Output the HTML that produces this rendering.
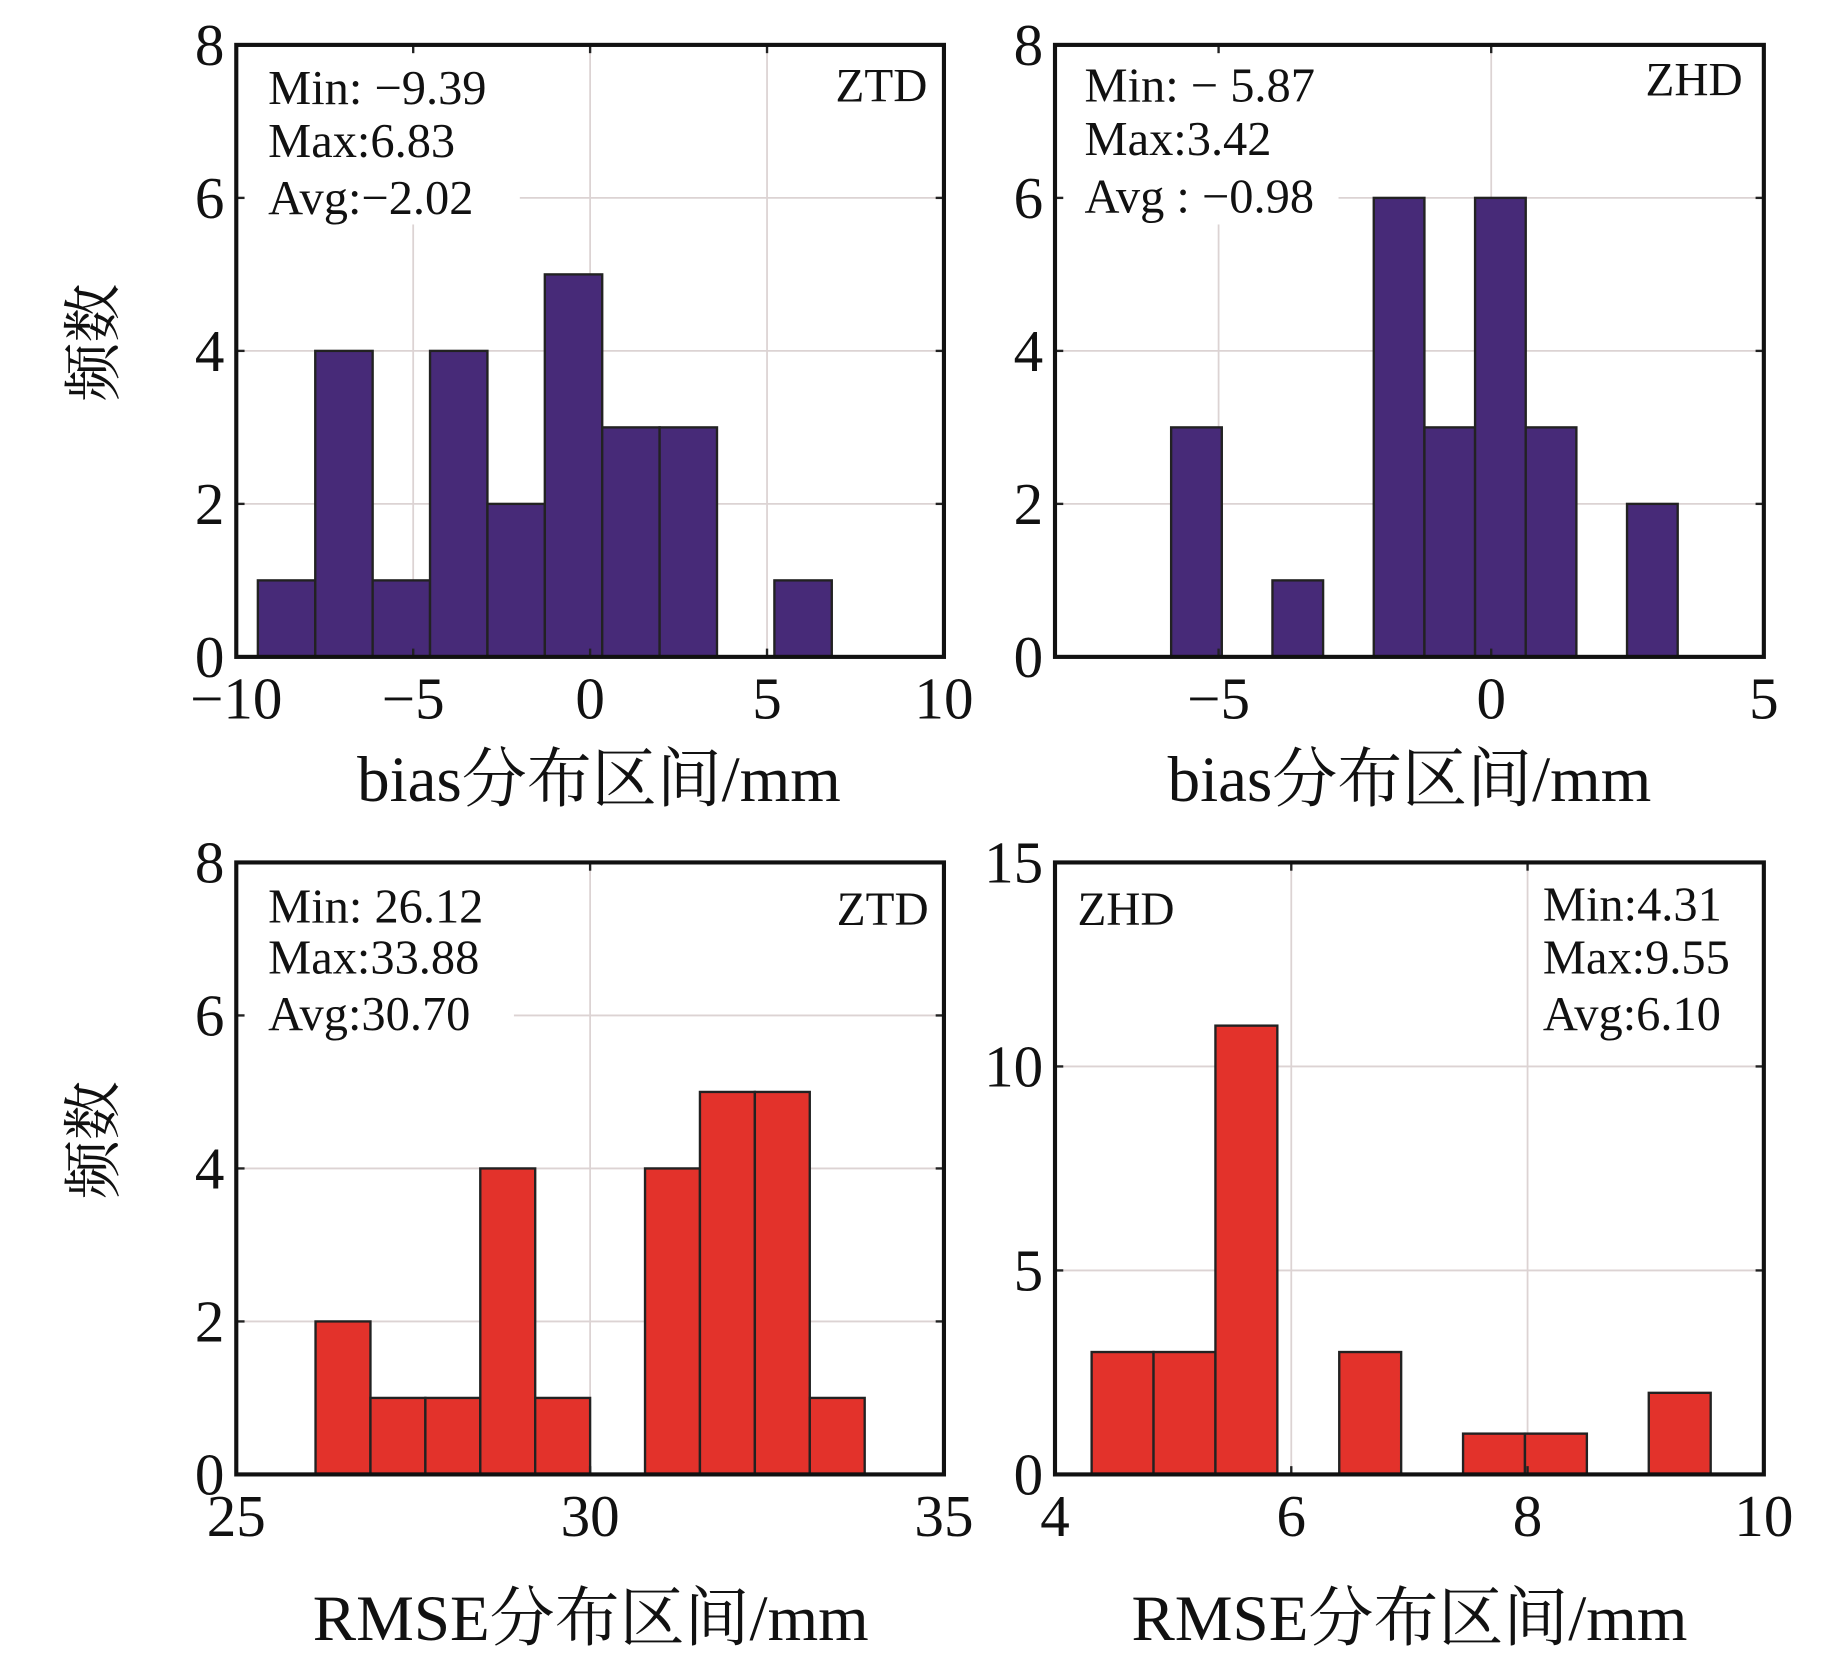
<!DOCTYPE html>
<html><head><meta charset="utf-8">
<style>
html,body{margin:0;padding:0;background:#fff;}
svg{display:block;}
text{font-family:"Liberation Serif","Noto Serif CJK SC",serif;fill:#111;}
</style></head>
<body>
<svg id="fig" width="1843" height="1654" viewBox="0 0 1560 1400" preserveAspectRatio="none" xmlns="http://www.w3.org/2000/svg"></svg>
<script>
// ---- data ----
const ztdBiasEdgesRange = [-9.39, 6.83];
const ztdBiasCounts = [1,4,1,4,2,5,3,3,0,1];
const zhdBiasEdgesRange = [-5.87, 3.42];
const zhdBiasCounts = [3,0,1,0,6,3,6,3,0,2];
const ztdRmseEdgesRange = [26.12, 33.88];
const ztdRmseCounts = [2,1,1,4,1,0,4,5,5,1];
const zhdRmseEdgesRange = [4.31, 9.55];
const zhdRmseCounts = [3,3,11,0,3,0,1,1,0,2];
const xTicksTL = [-10,-5,0,5,10];
const xTicksTR = [-5,0,5];
const xTicksBL = [25,30,35];
const xTicksBR = [4,6,8,10];
const yTicks8 = [0,2,4,6,8];
const yTicks15 = [0,5,10,15];

const NS="http://www.w3.org/2000/svg";
const svg=document.getElementById('fig');
function mk(tag,attrs,parent){const e=document.createElementNS(NS,tag);for(const k in attrs)e.setAttribute(k,attrs[k]);(parent||svg).appendChild(e);return e;}
function fmt(v){return v<0?'\u2212'+Math.abs(v):String(v);}

const panels=[
 {id:'ztd-bias',L:200,R:799,T:38,B:556,xmin:-10,xmax:10,ymax:8,range:ztdBiasEdgesRange,counts:ztdBiasCounts,xt:xTicksTL,yt:yTicks8,color:'#472a78',
  xlabel:'bias分布区间/mm',xlx:507,xly:678,tagTxt:'ZTD',tagX:785,tagY:86,tagAnchor:'end',
  stats:['Min: \u22129.39','Max:6.83','Avg:\u22122.02'],sx:227,sy:[88,133,181],box:[205,45,235,145]},
 {id:'zhd-bias',L:893,R:1493,T:38,B:556,xmin:-8,xmax:5,ymax:8,range:zhdBiasEdgesRange,counts:zhdBiasCounts,xt:xTicksTR,yt:yTicks8,color:'#472a78',
  xlabel:'bias分布区间/mm',xlx:1193,xly:678,tagTxt:'ZHD',tagX:1475,tagY:81,tagAnchor:'end',
  stats:['Min: \u2212 5.87','Max:3.42','Avg : \u22120.98'],sx:918,sy:[86,131,180],box:[898,45,235,145]},
 {id:'ztd-rmse',L:200,R:799,T:730,B:1248,xmin:25,xmax:35,ymax:8,range:ztdRmseEdgesRange,counts:ztdRmseCounts,xt:xTicksBL,yt:yTicks8,color:'#e3322b',
  xlabel:'RMSE分布区间/mm',xlx:500,xly:1388,tagTxt:'ZTD',tagX:786,tagY:783,tagAnchor:'end',
  stats:['Min: 26.12','Max:33.88','Avg:30.70'],sx:227,sy:[781,824,872],box:[205,737,230,145]},
 {id:'zhd-rmse',L:893,R:1493,T:730,B:1248,xmin:4,xmax:10,ymax:15,range:zhdRmseEdgesRange,counts:zhdRmseCounts,xt:xTicksBR,yt:yTicks15,color:'#e3322b',
  xlabel:'RMSE分布区间/mm',xlx:1193,xly:1388,tagTxt:'ZHD',tagX:912,tagY:783,tagAnchor:'start',
  stats:['Min:4.31','Max:9.55','Avg:6.10'],sx:1306,sy:[779,824,872],box:[1300,737,175,145]}
];

panels.forEach(p=>{
  const g=mk('g',{});
  
  
  const xs=v=>p.L+(v-p.xmin)/(p.xmax-p.xmin)*(p.R-p.L);
  const ys=v=>p.B-v/p.ymax*(p.B-p.T);
  p.xt.forEach(t=>{const x=xs(t);if(x>p.L+2&&x<p.R-2){const l=mk('line',{x1:x,x2:x,y1:p.T,y2:p.B,stroke:'#dcd3d3','stroke-width':1.5},g);}});
  p.yt.forEach(t=>{const y=ys(t);if(y>p.T+2&&y<p.B-2){const l=mk('line',{x1:p.L,x2:p.R,y1:y,y2:y,stroke:'#dcd3d3','stroke-width':1.5},g);}});
  const bx=mk('rect',{x:p.box[0],y:p.box[1],width:p.box[2],height:p.box[3],fill:'#fff'},g);
  
  
  const n=p.counts.length,w=(p.range[1]-p.range[0])/n;
  p.counts.forEach((c,i)=>{if(c<=0)return;const x0=xs(p.range[0]+i*w),x1=xs(p.range[0]+(i+1)*w);
    const r=mk('rect',{x:x0,y:ys(c),width:x1-x0,height:ys(0)-ys(c),fill:p.color,stroke:'#222','stroke-width':2},g);
    
    });
  p.xt.forEach(t=>{const x=xs(t);mk('line',{x1:x,x2:x,y1:p.B,y2:p.B-7,stroke:'#222','stroke-width':2},g);mk('line',{x1:x,x2:x,y1:p.T,y2:p.T+7,stroke:'#222','stroke-width':2},g);
    const tx=mk('text',{x:x,y:p.B+52,'font-size':50,'text-anchor':'middle'},g);tx.textContent=fmt(t);
    });
  p.yt.forEach(t=>{const y=ys(t);mk('line',{x1:p.L,x2:p.L+7,y1:y,y2:y,stroke:'#222','stroke-width':2},g);mk('line',{x1:p.R,x2:p.R-7,y1:y,y2:y,stroke:'#222','stroke-width':2},g);
    const tx=mk('text',{x:p.L-10,y:y+17,'font-size':50,'text-anchor':'end'},g);tx.textContent=fmt(t);
    });
  const fr=mk('rect',{x:p.L,y:p.T,width:p.R-p.L,height:p.B-p.T,fill:'none',stroke:'#111','stroke-width':3.5},g);
  
  const tg=mk('text',{x:p.tagX,y:p.tagY,'font-size':40,'text-anchor':p.tagAnchor},g);tg.textContent=p.tagTxt;
  
  p.stats.forEach((s,i)=>{const t=mk('text',{x:p.sx,y:p.sy[i],'font-size':41},g);t.textContent=s;
    });
  const xl=mk('text',{x:p.xlx,y:p.xly,'font-size':55,'text-anchor':'middle'},g);xl.textContent=p.xlabel;
  
});
[290,965].forEach(cy=>{const t=mk('text',{x:0,y:0,'font-size':50,'text-anchor':'middle',transform:'translate(96,'+cy+') rotate(-90)'});t.textContent='频数';
  });
</script>
</body></html>
